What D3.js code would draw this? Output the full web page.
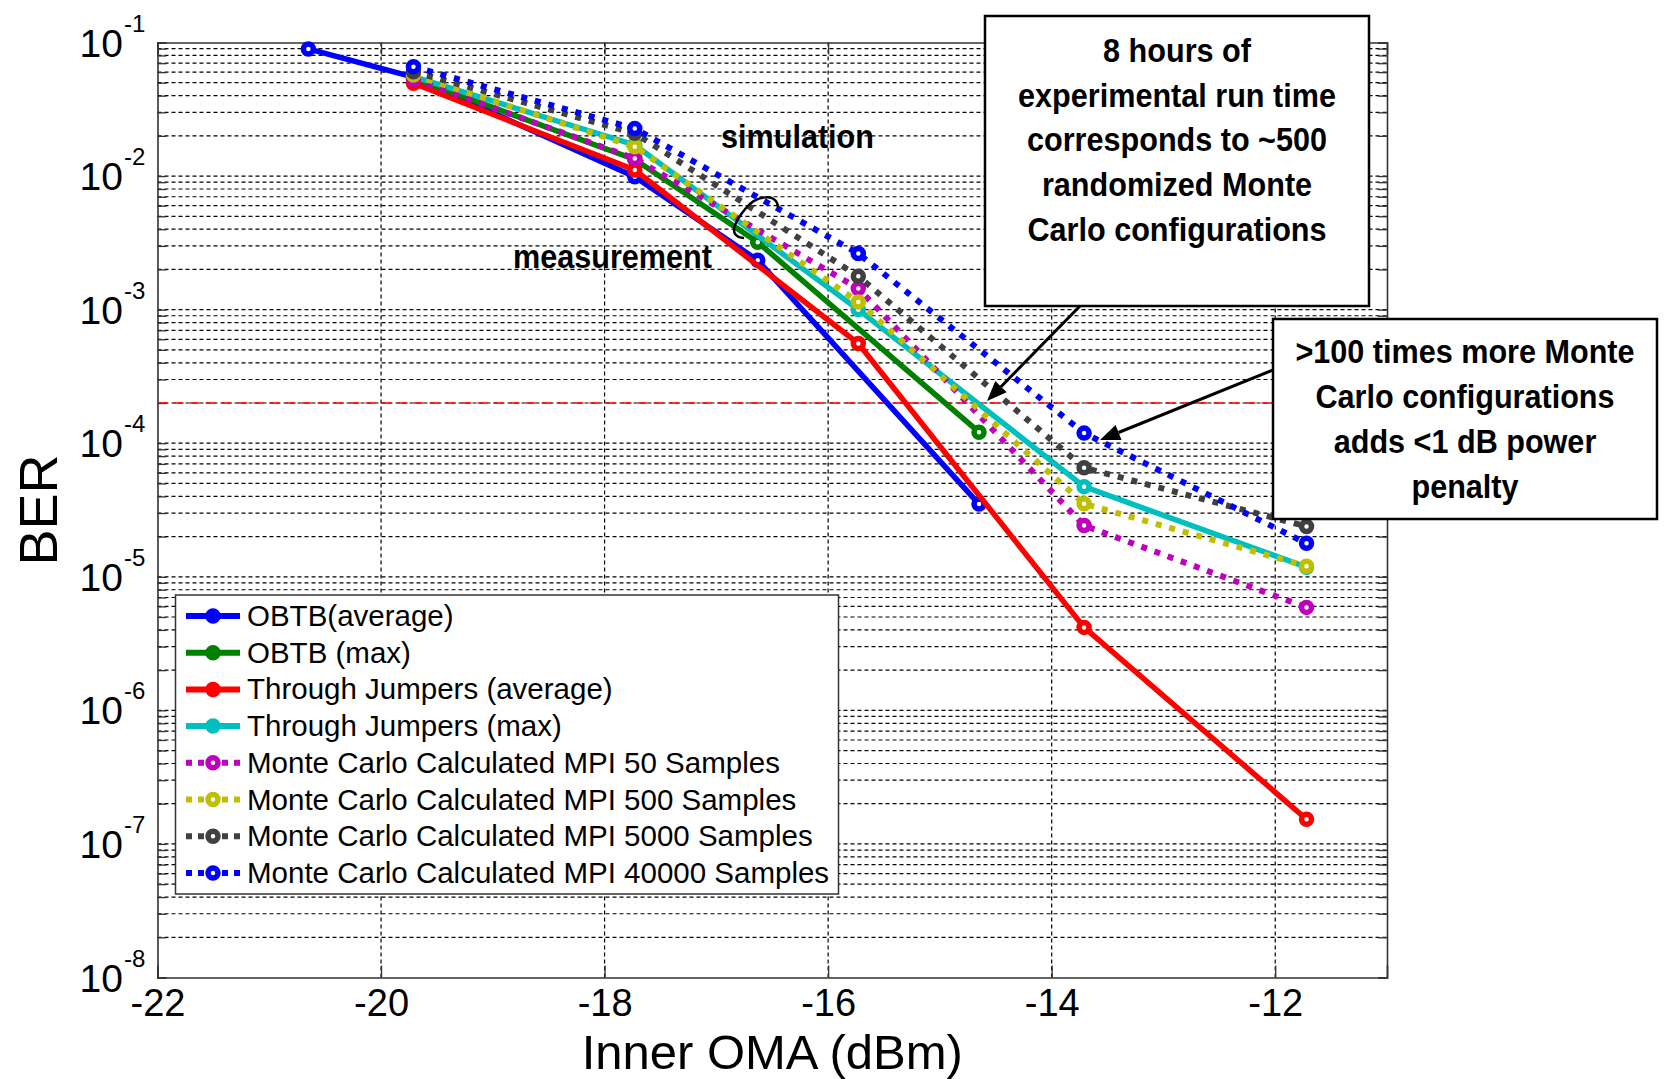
<!DOCTYPE html>
<html>
<head>
<meta charset="utf-8">
<script src="https://cdn.jsdelivr.net/npm/d3@7"></script>
<style>
  body { margin:0; background:#fff; }
  svg { display:block; font-family:"Liberation Sans", Arial, sans-serif; }
</style>
</head>
<body>
<div class="chart"></div>
<script>
// measured OMA points (dBm)
let omaObtbAvg = [-20.65, -19.71, -17.73, -16.63, -14.65];
let omaObtbMax = [-19.71, -17.73, -16.63, -14.65];
let omaSim = [-19.71, -17.73, -15.73, -13.71, -11.72];

// BER values
let berObtbAvg = [0.0895, 0.055, 0.0099, 0.00234, 3.5e-5];
let berObtbMax = [0.054, 0.0133, 0.0032, 1.21e-4];
let berJumpAvg = [0.0495, 0.0111, 5.57e-4, 4.18e-6, 1.53e-7];
let berJumpMax = [0.0555, 0.0171, 1.0e-3, 4.73e-5, 1.18e-5];
let berMc50 = [0.053, 0.01355, 1.44e-3, 2.42e-5, 5.9e-6];
let berMc500 = [0.0571, 0.01656, 1.14e-3, 3.52e-5, 1.2e-5];
let berMc5000 = [0.0605, 0.0209, 1.78e-3, 6.55e-5, 2.38e-5];
let berMc40000 = [0.0659, 0.0227, 2.63e-3, 1.19e-4, 1.78e-5];

let seriesNames = ["OBTB(average)", "OBTB (max)", "Through Jumpers (average)", "Through Jumpers (max)",
  "Monte Carlo Calculated MPI 50 Samples", "Monte Carlo Calculated MPI 500 Samples",
  "Monte Carlo Calculated MPI 5000 Samples", "Monte Carlo Calculated MPI 40000 Samples"];
let seriesX = [omaObtbAvg, omaObtbMax, omaSim, omaSim, omaSim, omaSim, omaSim, omaSim];
let seriesY = [berObtbAvg, berObtbMax, berJumpAvg, berJumpMax, berMc50, berMc500, berMc5000, berMc40000];

let xTicks = [-22, -20, -18, -16, -14, -12];
let yExponents = [-1, -2, -3, -4, -5, -6, -7, -8];
let berLimit = 2e-4;

let note1 = ["8 hours of", "experimental run time", "corresponds to ~500", "randomized Monte", "Carlo configurations"];
let note2 = [">100 times more Monte", "Carlo configurations", "adds <1 dB power", "penalty"];

// styles
let colors = ["#0000ff", "#008000", "#ff0000", "#00bfbf", "#bf00bf", "#bfbf00", "#404040", "#0000ff"];
let dotted = [false, false, false, false, true, true, true, true];

let W = 1668, H = 1079;
let box = {left:157.5, right:1387, top:42.5, bottom:977.5};

let x = d3.scaleLinear().domain([-22, -11]).range([box.left, box.right]);
let y = d3.scaleLog().domain([1e-8, 1e-1]).range([box.bottom, box.top]);

let svg = d3.select(".chart").append("svg").attr("width", W).attr("height", H);
svg.append("rect").attr("width", W).attr("height", H).attr("fill", "#fff");

// grid values: all decades with minors
let yMinor = [];
for (let k = -8; k < -1; k++) {
  for (let m = 1; m <= 9; m++) yMinor.push(m * Math.pow(10, k));
}
yMinor.push(1e-1);

let grid = svg.append("g").attr("class", "grid");
grid.selectAll("line.hg").data(yMinor.filter(d => d > 1.01e-8 && d < 0.099)).enter()
  .append("line").attr("class", "hg")
  .attr("x1", box.left).attr("x2", box.right)
  .attr("y1", d => y(d)).attr("y2", d => y(d))
  .attr("stroke", "#000").attr("stroke-width", 1.2).attr("stroke-dasharray", "4,3");
grid.selectAll("line.vg").data(xTicks.slice(1)).enter()
  .append("line").attr("class", "vg")
  .attr("x1", d => x(d)).attr("x2", d => x(d))
  .attr("y1", box.top).attr("y2", box.bottom)
  .attr("stroke", "#000").attr("stroke-width", 1.2).attr("stroke-dasharray", "4,3");

// axes (ticks inside like matlab)
let fmtX = d => String(d);
let axB = svg.append("g").attr("transform", "translate(0," + box.bottom + ")")
  .call(d3.axisBottom(x).tickValues(xTicks).tickSize(-12).tickPadding(12).tickFormat(fmtX));
let axT = svg.append("g").attr("transform", "translate(0," + box.top + ")")
  .call(d3.axisTop(x).tickValues(xTicks).tickSize(-12).tickFormat(""));
let axL = svg.append("g").attr("transform", "translate(" + box.left + ",0)")
  .call(d3.axisLeft(y).tickValues(yMinor).tickSize(-9).tickFormat(""));
let axR = svg.append("g").attr("transform", "translate(" + box.right + ",0)")
  .call(d3.axisRight(y).tickValues(yMinor).tickSize(-9).tickFormat(""));
[axB, axT, axL, axR].forEach(a => {
  a.select(".domain").attr("stroke", "#333").attr("stroke-width", 1.6);
  a.selectAll(".tick line").attr("stroke", "#333").attr("stroke-width", 1.3);
});
axB.selectAll(".tick text").attr("font-size", 38).attr("fill", "#000")
  .attr("font-family", "'Liberation Sans', Arial, sans-serif");

// y labels 10^k
let yLab = svg.append("g");
yExponents.forEach(e => {
  yLab.append("text").attr("x", 123).attr("y", y(Math.pow(10, e)) + 14)
    .attr("text-anchor", "end").attr("font-size", 39).text("10");
  yLab.append("text").attr("x", 124).attr("y", y(Math.pow(10, e)) - 11)
    .attr("font-size", 24).text(String(e));
});

// FEC limit
svg.append("line").attr("x1", box.left).attr("x2", box.right)
  .attr("y1", y(berLimit)).attr("y2", y(berLimit))
  .attr("stroke", "#ff0000").attr("stroke-width", 1.5).attr("stroke-dasharray", "10,6");

// series
let line = d3.line().x(d => x(d[0])).y(d => y(d[1]));
let plot = svg.append("g");
seriesNames.forEach((name, i) => {
  let pts = seriesX[i].map((v, j) => [v, seriesY[i][j]]);
  plot.append("path").attr("d", line(pts))
    .attr("fill", "none").attr("stroke", colors[i])
    .attr("stroke-width", dotted[i] ? 6 : 5.5)
    .attr("stroke-dasharray", dotted[i] ? "6,8" : null);
  plot.selectAll(null).data(pts).enter().append("circle")
    .attr("cx", d => x(d[0])).attr("cy", d => y(d[1])).attr("r", 5)
    .attr("fill", "#fff").attr("stroke", colors[i]).attr("stroke-width", 5.5);
});

// legend
let leg = svg.append("g");
leg.append("rect").attr("x", 175.5).attr("y", 595).attr("width", 663).attr("height", 299)
  .attr("fill", "#fff").attr("stroke", "#333").attr("stroke-width", 1.5);
seriesNames.forEach((name, i) => {
  let ly = 616 + i * 36.7;
  leg.append("line").attr("x1", 186).attr("x2", 240).attr("y1", ly).attr("y2", ly)
    .attr("stroke", colors[i]).attr("stroke-width", 6)
    .attr("stroke-dasharray", dotted[i] ? "6,6" : null);
  leg.append("circle").attr("cx", 213).attr("cy", ly).attr("r", 5)
    .attr("fill", dotted[i] ? "#fff" : colors[i]).attr("stroke", colors[i]).attr("stroke-width", 5.5);
  leg.append("text").attr("x", 247).attr("y", ly + 10).attr("font-size", 29.5).text(name);
});

// annotations
function noteText(g, lines, cx, y0, step) {
  lines.forEach((s, i) => {
    g.append("text").attr("transform", "translate(" + cx + "," + (y0 + i * step) + ") scale(0.9,1)")
      .attr("text-anchor", "middle").attr("font-size", 34).attr("font-weight", "bold").text(s);
  });
}
let ann = svg.append("g");
ann.append("rect").attr("x", 985).attr("y", 16).attr("width", 384).attr("height", 290)
  .attr("fill", "#fff").attr("stroke", "#000").attr("stroke-width", 2.5);
noteText(ann, note1, 1177, 62, 44.7);
ann.append("rect").attr("x", 1273).attr("y", 319).attr("width", 384).attr("height", 200)
  .attr("fill", "#fff").attr("stroke", "#000").attr("stroke-width", 2.5);
noteText(ann, note2, 1465, 363, 45);

function arrow(x1, y1, x2, y2) {
  let a = Math.atan2(y2 - y1, x2 - x1), L = 20, w = 8;
  let bx = x2 - L * Math.cos(a), by = y2 - L * Math.sin(a);
  ann.append("line").attr("x1", x1).attr("y1", y1).attr("x2", bx).attr("y2", by)
    .attr("stroke", "#000").attr("stroke-width", 3);
  let p = [[x2, y2], [bx + w * Math.sin(a), by - w * Math.cos(a)], [bx - w * Math.sin(a), by + w * Math.cos(a)]];
  ann.append("path").attr("d", "M" + p.join("L") + "Z").attr("fill", "#000");
}
arrow(1080, 306, 987, 401);
arrow(1273, 370, 1100, 440);

ann.append("path").attr("d", "M778,207 C777,193 757,195 746,208 C736,220 726,236 744,238")
  .attr("fill", "none").attr("stroke", "#000").attr("stroke-width", 2.5);
ann.append("text").attr("transform", "translate(721,148) scale(0.9,1)")
  .attr("font-size", 34).attr("font-weight", "bold").text("simulation");
ann.append("text").attr("transform", "translate(513,268) scale(0.9,1)")
  .attr("font-size", 34).attr("font-weight", "bold").text("measurement");

// axis titles
svg.append("text").attr("x", (box.left + box.right) / 2).attr("y", 1068.5)
  .attr("text-anchor", "middle").attr("font-size", 49).text("Inner OMA (dBm)");
svg.append("text").attr("transform", "translate(57," + ((box.top + box.bottom) / 2) + ") rotate(-90)")
  .attr("text-anchor", "middle").attr("font-size", 54).text("BER");
</script>
</body>
</html>
